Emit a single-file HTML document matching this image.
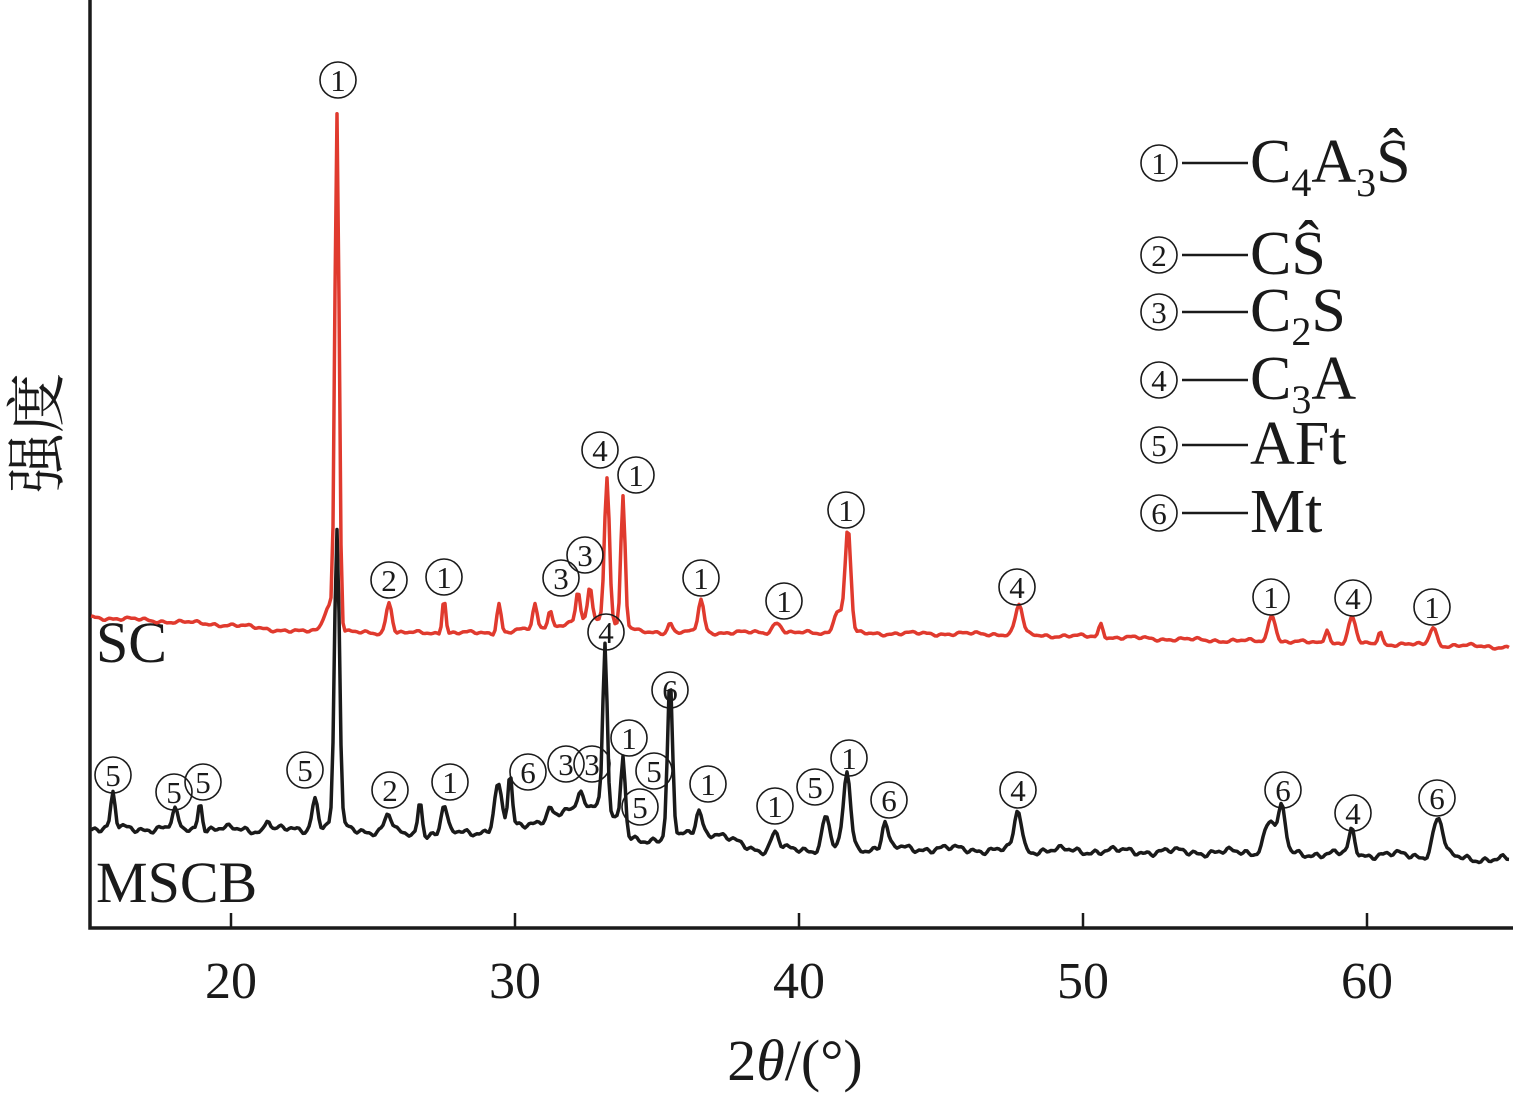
<!DOCTYPE html>
<html><head><meta charset="utf-8"><style>
html,body{margin:0;padding:0;background:#fff;}
svg{display:block;}
text{font-family:"Liberation Serif","Noto Serif CJK SC",serif;fill:#1a1a1a;}
</style></head><body>
<svg id="s" width="1513" height="1099" viewBox="0 0 1513 1099" xmlns="http://www.w3.org/2000/svg">
<path d="M90 0 V928 H1513" fill="none" stroke="#1a1a1a" stroke-width="3.5"/>
<g stroke="#1a1a1a" stroke-width="2.5">
<line x1="231" y1="928" x2="231" y2="913"/><line x1="515" y1="928" x2="515" y2="913"/>
<line x1="799" y1="928" x2="799" y2="913"/><line x1="1083" y1="928" x2="1083" y2="913"/>
<line x1="1367" y1="928" x2="1367" y2="913"/></g>
<g font-size="52" text-anchor="middle">
<text x="231" y="998">20</text><text x="515" y="998">30</text><text x="799" y="998">40</text><text x="1083" y="998">50</text><text x="1367" y="998">60</text></g>
<text x="795" y="1080" font-size="58" text-anchor="middle">2<tspan font-style="italic">θ</tspan>/(°)</text>
<text transform="translate(58,433) rotate(-90)" font-size="60" text-anchor="middle">强度</text>
<text x="96" y="662" font-size="58">SC</text>
<text x="96" y="902" font-size="58">MSCB</text>
<path id="red" fill="none" stroke="#e03a2e" stroke-width="3.5" stroke-linejoin="round"/>
<path id="blk" fill="none" stroke="#1a1a1a" stroke-width="3.5" stroke-linejoin="round"/>
<g id="labels"></g>
<g font-size="62">
<line x1="1182" y1="163" x2="1248" y2="163" stroke="#1a1a1a" stroke-width="2.5"/>
<text x="1250" y="182">C<tspan font-size="40" dy="14">4</tspan><tspan dy="-14">A</tspan><tspan font-size="40" dy="14">3</tspan><tspan dy="-14">Ŝ</tspan></text>
<line x1="1182" y1="255" x2="1248" y2="255" stroke="#1a1a1a" stroke-width="2.5"/>
<text x="1250" y="274">CŜ</text>
<line x1="1182" y1="312" x2="1248" y2="312" stroke="#1a1a1a" stroke-width="2.5"/>
<text x="1250" y="331">C<tspan font-size="40" dy="14">2</tspan><tspan dy="-14">S</tspan></text>
<line x1="1182" y1="380" x2="1248" y2="380" stroke="#1a1a1a" stroke-width="2.5"/>
<text x="1250" y="399">C<tspan font-size="40" dy="14">3</tspan><tspan dy="-14">A</tspan></text>
<line x1="1182" y1="445" x2="1248" y2="445" stroke="#1a1a1a" stroke-width="2.5"/>
<text x="1250" y="464">AFt</text>
<line x1="1182" y1="513" x2="1248" y2="513" stroke="#1a1a1a" stroke-width="2.5"/>
<text x="1250" y="532">Mt</text>
</g>
</svg>
<script>
function interp(pts,x){for(var i=0;i<pts.length-1;i++){if(x<=pts[i+1][0]){var t=(x-pts[i][0])/(pts[i+1][0]-pts[i][0]);return pts[i][1]+t*(pts[i+1][1]-pts[i][1]);}}return pts[pts.length-1][1];}
function build(base,peaks,amp,seed){var d="";for(var x=91;x<=1510;x+=2){var b=interp(base,x);var n=amp*(Math.sin(x*0.37+seed)*0.6+Math.sin(x*0.113+seed*2)*0.8+Math.sin(x*0.71+seed*3)*0.4);var y=b+n;for(var k=0;k<peaks.length;k++){var p=peaks[k];var h=b-p[1];var w=p[2]||3;y-=h*Math.exp(-Math.pow((x-p[0])/w,2));}d+=(d?"L":"M")+x+" "+y.toFixed(1);}return d;}
var redBase=[[90,617],[230,625],[300,632],[330,630],[360,633],[500,633],[560,625],[600,618],[640,632],[800,633],[1000,634],[1200,640],[1510,647]];
var redPeaks=[[337,120,3],[329,605,7],[389,601,4],[444,597,2.5],[499,603,3],[535,605,3],[550,610,3],[578,592,3],[590,587,3],[607,477,3.5],[623,497,3],[670,622,3],[701,600,4],[777,622,6],[838,610,6],[848,528,4],[1019,605,5],[1101,623,3],[1272,614,5],[1327,628,3],[1352,618,5],[1380,630,3],[1433,627,5]];
var blkBase=[[90,828],[300,830],[330,825],[360,830],[420,835],[500,830],[560,815],[600,800],[630,838],[660,840],[700,830],[760,850],[900,848],[1000,850],[1200,852],[1400,855],[1510,860]];
var blkPeaks=[[113,795,3],[175,812,4],[200,800,3],[268,818,3],[315,797,4],[337,530,3.5],[388,815,5],[420,798,3],[444,806,4],[498,785,5],[510,775,3],[550,808,3],[580,790,4],[605,643,3],[623,757,3],[670,683,3.5],[699,808,4],[775,833,5],[826,815,5],[847,773,5],[885,822,4],[1018,810,5],[1270,820,8],[1282,812,5],[1352,830,4],[1438,818,7]];
document.getElementById('red').setAttribute('d',build(redBase,redPeaks,1.5,1));
document.getElementById('blk').setAttribute('d',build(blkBase,blkPeaks,3,2));
var L=[[338,80,1],[389,580,2],[444,577,1],[561,578,3],[585,555,3],[600,450,4],[636,475,1],[701,578,1],[784,601,1],[846,510,1],[1017,587,4],[1271,597,1],[1353,598,4],[1432,607,1],
[113,775,5],[174,792,5],[203,782,5],[305,770,5],[390,790,2],[450,782,1],[528,772,6],[566,764,3],[592,764,3],[606,632,4],[629,738,1],[654,771,5],[640,807,5],[670,690,6],[708,784,1],[775,806,1],[815,787,5],[849,758,1],[889,800,6],[1018,790,4],[1283,790,6],[1353,813,4],[1437,798,6],
[1159,163,1],[1159,255,2],[1159,312,3],[1159,380,4],[1159,445,5],[1159,513,6]];
var g=document.getElementById('labels'),h="";
L.forEach(function(l){h+='<circle cx="'+l[0]+'" cy="'+l[1]+'" r="18" fill="#fff" fill-opacity="0" stroke="#1a1a1a" stroke-width="1.6"/><text x="'+l[0]+'" y="'+(l[1]+11)+'" font-size="31" text-anchor="middle">'+l[2]+'</text>';});
g.innerHTML=h;
</script>
</body></html>
